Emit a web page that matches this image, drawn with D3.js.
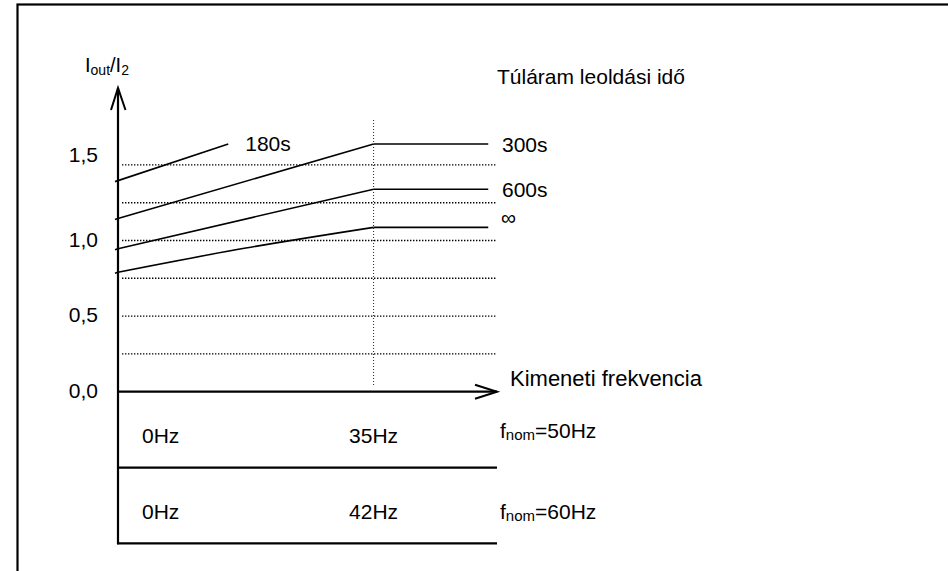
<!DOCTYPE html>
<html>
<head>
<meta charset="utf-8">
<script src="https://cdn.jsdelivr.net/npm/d3@7"></script>
<style>
  html, body { margin: 0; padding: 0; background: #fff; }
  svg text { font-family: "Liberation Sans", Arial, sans-serif; fill: #000; }
</style>
</head>
<body>
<svg id="chart" width="948" height="571"></svg>
<script>
// Trip-time curves: output current ratio vs. output frequency
const tripTimes = ["180s", "300s", "600s", "\u221E"];
const freq180 = [0, 15.1];
const curve180 = [1.396, 1.638];
const freq300 = [0, 35, 50.7];
const curve300 = [1.146, 1.638, 1.638];
const freq600 = [0, 35, 50.7];
const curve600 = [0.946, 1.339, 1.339];
const freqInf = [0, 17.5, 35, 50.7];
const curveInf = [0.790, 0.950, 1.087, 1.087];

const gridValues = [0.25, 0.5, 0.75, 1.0, 1.25, 1.5];
const yTickValues = [0, 0.5, 1.0, 1.5];
const yTickLabels = ["0,0", "0,5", "1,0", "1,5"];
const kneeFreq = 35;
const freqRows = [
  { nominal: "50Hz", start: "0Hz", knee: "35Hz" },
  { nominal: "60Hz", start: "0Hz", knee: "42Hz" }
];

const svg = d3.select("#chart");
const x = d3.scaleLinear().domain([0, 51.9]).range([118, 497]);
const y = d3.scaleLinear().domain([0, 1.5]).range([391.7, 164.9]);
const FS = 21;

// outer frame
svg.append("rect")
  .attr("x", 17.5).attr("y", 4.5).attr("width", 1000).attr("height", 1000)
  .attr("fill", "none").attr("stroke", "#000").attr("stroke-width", 2.2);

// dotted horizontal grid
svg.append("g").selectAll("line").data(gridValues).join("line")
  .attr("x1", x(0) + 4).attr("x2", x.range()[1])
  .attr("y1", d => y(d)).attr("y2", d => y(d))
  .attr("stroke", "#000").attr("stroke-width", 1.4)
  .attr("stroke-dasharray", "1.4,1.6");

// dotted vertical marker at the knee frequency
svg.append("line")
  .attr("x1", x(kneeFreq)).attr("x2", x(kneeFreq))
  .attr("y1", 120).attr("y2", y(0) - 6)
  .attr("stroke", "#222").attr("stroke-width", 1)
  .attr("stroke-dasharray", "1,2");

// axes
const ax = svg.append("g").attr("stroke", "#000").attr("fill", "none");
ax.append("line").attr("x1", x(0)).attr("x2", x(0)).attr("y1", 88).attr("y2", 544.3).attr("stroke-width", 2.2);
ax.append("path").attr("d", `M${x(0) - 7},110 L${x(0)},88 L${x(0) + 7.5},110`).attr("stroke-width", 2);
ax.append("line").attr("x1", x(0)).attr("x2", x.range()[1]).attr("y1", y(0)).attr("y2", y(0)).attr("stroke-width", 2.2);
ax.append("path").attr("d", `M${x.range()[1] - 22},${y(0) - 7} L${x.range()[1]},${y(0)} L${x.range()[1] - 22},${y(0) + 7}`).attr("stroke-width", 2);

// table rule lines below the axis
ax.append("line").attr("x1", x(0)).attr("x2", x.range()[1]).attr("y1", 467.7).attr("y2", 467.7).attr("stroke-width", 2.2);
ax.append("line").attr("x1", x(0) - 1).attr("x2", x.range()[1]).attr("y1", 543.3).attr("y2", 543.3).attr("stroke-width", 2.2);

// y tick labels
svg.append("g").selectAll("text").data(yTickValues).join("text")
  .attr("x", 98).attr("y", d => y(d) + (d === 1.5 ? -3 : 6))
  .attr("text-anchor", "end").attr("font-size", FS)
  .text((d, i) => yTickLabels[i]);

// curves: rising part up to the knee, then flat
const series = [
  { f: freq180, v: curve180, name: tripTimes[0], smooth: false },
  { f: freq300, v: curve300, name: tripTimes[1], smooth: false },
  { f: freq600, v: curve600, name: tripTimes[2], smooth: false },
  { f: freqInf, v: curveInf, name: tripTimes[3], smooth: true }
];
series.forEach(s => {
  const pts = s.f.map((f, i) => [f, s.v[i]]);
  const rise = pts.filter(p => p[0] <= kneeFreq);
  const flat = pts.filter(p => p[0] >= kneeFreq);
  const riseLine = d3.line().x(d => x(d[0])).y(d => y(d[1]))
    .curve(s.smooth ? d3.curveMonotoneX : d3.curveLinear);
  const flatLine = d3.line().x(d => x(d[0])).y(d => y(d[1]));
  svg.append("path").attr("d", riseLine(rise))
    .attr("fill", "none").attr("stroke", "#000").attr("stroke-width", 1.6);
  if (flat.length > 1) {
    svg.append("path").attr("d", flatLine(flat))
      .attr("fill", "none").attr("stroke", "#000").attr("stroke-width", 1.6);
  }
  // short lead-in to the left of the axis
  svg.append("line")
    .attr("x1", x(0) - 3).attr("x2", x(0))
    .attr("y1", y(s.v[0]) + 1).attr("y2", y(s.v[0]))
    .attr("stroke", "#000").attr("stroke-width", 1.6);
});

// curve labels
const lastOf = s => [s.f[s.f.length - 1], s.v[s.v.length - 1]];
svg.append("text").attr("x", x(lastOf(series[0])[0]) + 17).attr("y", y(lastOf(series[0])[1]) + 7)
  .attr("font-size", FS).text(series[0].name);
series.slice(1, 3).forEach(s => {
  svg.append("text").attr("x", 502).attr("y", y(lastOf(s)[1]) + 8)
    .attr("font-size", FS).text(s.name);
});
svg.append("text").attr("x", 501).attr("y", y(lastOf(series[3])[1]) - 2)
  .attr("font-size", 21).text(series[3].name);

// titles
svg.append("text").attr("x", 497).attr("y", 84).attr("font-size", FS).text("Túláram leoldási idő");
svg.append("text").attr("x", 510).attr("y", 386).attr("font-size", 22).text("Kimeneti frekvencia");

const yl = svg.append("text").attr("x", 85).attr("y", 72).attr("font-size", 20);
yl.append("tspan").text("I");
yl.append("tspan").attr("font-size", 14).attr("dy", 3).text("out");
yl.append("tspan").attr("dy", -3).text("/I");
yl.append("tspan").attr("font-size", 14).attr("dy", 3).text("2");

// frequency table rows
const rowBase = [442.7, 519.3];
const nomBase = [438.3, 519.3];
freqRows.forEach((r, i) => {
  svg.append("text").attr("x", 142).attr("y", rowBase[i]).attr("font-size", FS).text(r.start);
  svg.append("text").attr("x", x(kneeFreq)).attr("y", rowBase[i]).attr("font-size", FS)
    .attr("text-anchor", "middle").text(r.knee);
  const t = svg.append("text").attr("x", 500).attr("y", nomBase[i]).attr("font-size", FS);
  t.append("tspan").text("f");
  t.append("tspan").attr("font-size", 15).attr("dy", 2).text("nom");
  t.append("tspan").attr("dy", -2).text("=" + r.nominal);
});
</script>
</body>
</html>
